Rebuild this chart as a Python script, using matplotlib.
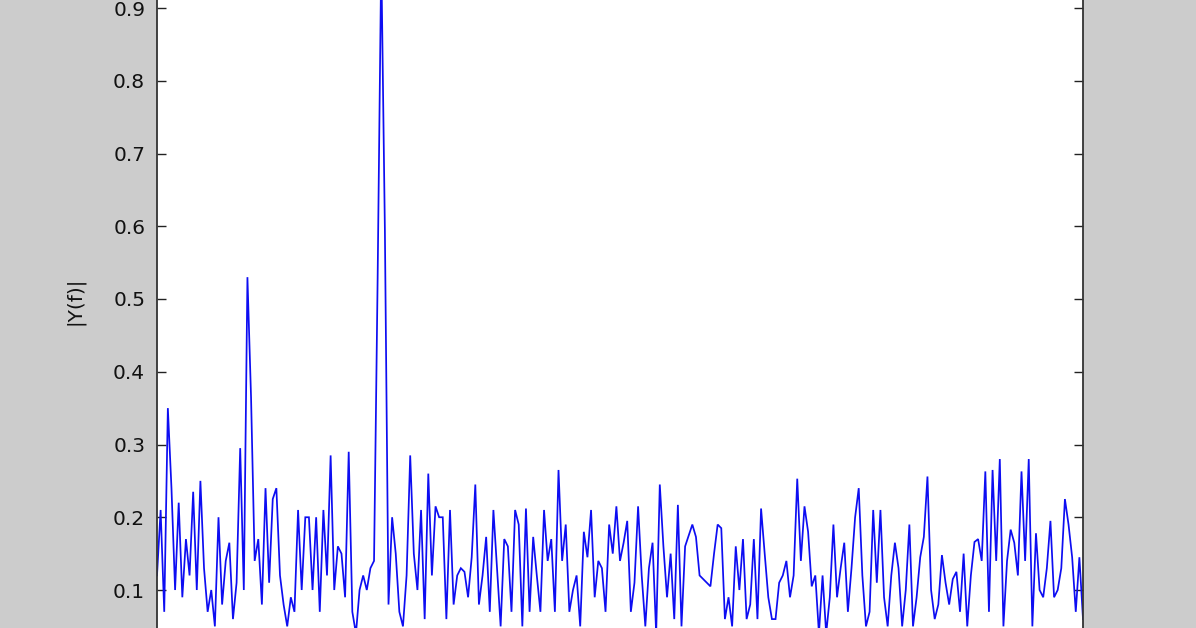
import numpy as np
import matplotlib
matplotlib.use("Agg")
import matplotlib.pyplot as plt

# Single-sided amplitude spectrum |Y(f)|
amplitude = [
    0.12, 0.21, 0.07, 0.35, 0.24, 0.10, 0.22, 0.09, 0.17, 0.12,
    0.235, 0.10, 0.25, 0.13, 0.07, 0.10, 0.05, 0.20, 0.08, 0.14,
    0.165, 0.06, 0.11, 0.295, 0.10, 0.53, 0.365, 0.14, 0.17, 0.08,
    0.24, 0.11, 0.225, 0.24, 0.12, 0.08, 0.05, 0.09, 0.07, 0.21,
    0.10, 0.20, 0.20, 0.10, 0.20, 0.07, 0.21, 0.12, 0.285, 0.10,
    0.16, 0.15, 0.09, 0.29, 0.07, 0.04, 0.10, 0.12, 0.10, 0.13,
    0.14, 0.53, 0.97, 0.595, 0.08, 0.20, 0.15, 0.07, 0.05, 0.12,
    0.285, 0.15, 0.10, 0.21, 0.06, 0.26, 0.12, 0.215, 0.20, 0.20,
    0.06, 0.21, 0.08, 0.12, 0.13, 0.125, 0.09, 0.145, 0.245, 0.08,
    0.12, 0.173, 0.07, 0.21, 0.13, 0.05, 0.17, 0.16, 0.07, 0.21,
    0.19, 0.05, 0.212, 0.07, 0.173, 0.12, 0.07, 0.21, 0.14, 0.17,
    0.07, 0.265, 0.14, 0.19, 0.07, 0.10, 0.12, 0.05, 0.18, 0.145,
    0.21, 0.09, 0.14, 0.13, 0.07, 0.19, 0.15, 0.215, 0.14, 0.165,
    0.195, 0.07, 0.11, 0.215, 0.12, 0.05, 0.13, 0.165, 0.04, 0.245,
    0.16, 0.09, 0.15, 0.06, 0.217, 0.05, 0.16, 0.175, 0.19, 0.173,
    0.12, 0.115, 0.11, 0.105, 0.15, 0.19, 0.185, 0.06, 0.09, 0.05,
    0.16, 0.10, 0.17, 0.06, 0.08, 0.17, 0.06, 0.212, 0.15, 0.09,
    0.06, 0.06, 0.11, 0.12, 0.14, 0.09, 0.12, 0.253, 0.14, 0.215,
    0.18, 0.105, 0.12, 0.04, 0.12, 0.04, 0.09, 0.19, 0.09, 0.13,
    0.165, 0.07, 0.13, 0.20, 0.24, 0.12, 0.05, 0.07, 0.21, 0.11,
    0.21, 0.09, 0.05, 0.12, 0.165, 0.13, 0.05, 0.10, 0.19, 0.05,
    0.09, 0.145, 0.173, 0.256, 0.10, 0.06, 0.08, 0.148, 0.11, 0.08,
    0.115, 0.125, 0.07, 0.15, 0.05, 0.12, 0.166, 0.17, 0.14, 0.263,
    0.07, 0.265, 0.14, 0.28, 0.05, 0.14, 0.183, 0.165, 0.12, 0.263,
    0.14, 0.28, 0.05, 0.178, 0.10, 0.09, 0.13, 0.195, 0.09, 0.10,
    0.13, 0.225, 0.19, 0.145, 0.07, 0.145, 0.06,
]
freq_max = 500.0
frequency = np.linspace(0.0, freq_max, len(amplitude))

y_ticks = [0.1, 0.2, 0.3, 0.4, 0.5, 0.6, 0.7, 0.8, 0.9]
y_tick_labels = ["0.1", "0.2", "0.3", "0.4", "0.5", "0.6", "0.7", "0.8", "0.9"]
y_label = "|Y(f)|"

plt.rcParams["font.family"] = ["DejaVu Sans"]

W, H = 1196, 628
fig = plt.figure(figsize=(W / 100, H / 100), dpi=100, facecolor="#cccccc")

# axes box (it extends beyond the visible crop, like the reference)
left_px, right_px = 157, 1083
y0_px, y1_px = 662.75, -64.75  # pixel rows (from top) of y=0 and y=1
ax = fig.add_axes([left_px / W, (H - y0_px) / H,
                   (right_px - left_px) / W, (y0_px - y1_px) / H])
ax.set_facecolor("white")

ax.plot(frequency, amplitude, color=(0.05, 0.05, 0.95), linewidth=1.25,
        solid_joinstyle="miter")

ax.set_xlim(0, freq_max)
ax.set_ylim(0, 1.0)
ax.set_yticks(y_ticks)
ax.set_yticklabels(y_tick_labels)
ax.set_xticks([])
ax.tick_params(axis="y", direction="in", length=6.5, width=1.0,
               color="#222222", labelsize=14.5, labelcolor="#111111",
               left=True, right=True, pad=8.5)
for s in ax.spines.values():
    s.set_color("#333333")
    s.set_linewidth(1.3)

ax.set_ylabel(y_label, fontsize=14.5, color="#111111")
ax.yaxis.label.set_va("center")
ax.yaxis.set_label_coords((75 - left_px) / (right_px - left_px), (y0_px - 301) / (y0_px - y1_px))

fig.savefig("out.png", dpi=100, facecolor=fig.get_facecolor())
